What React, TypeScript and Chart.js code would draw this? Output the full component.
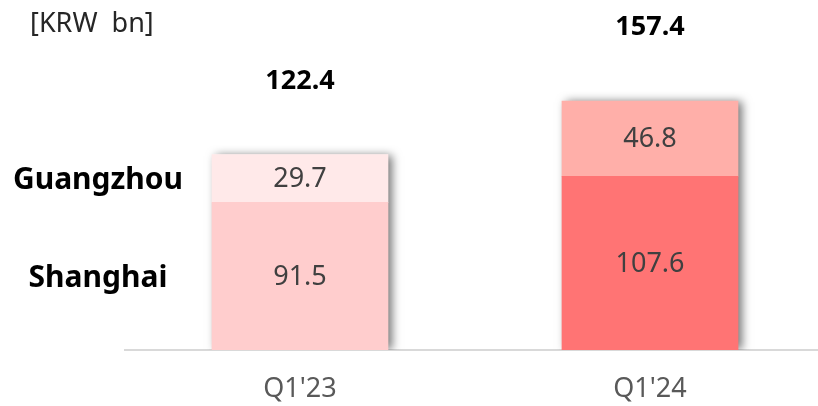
import React, { useEffect, useRef } from "react";
import { Chart, registerables } from "chart.js";

Chart.register(...registerables);

const categories = ["Q1'23", "Q1'24"];
const seriesNames = ["Shanghai", "Guangzhou"];
const shanghai = [91.5, 107.6];
const guangzhou = [29.7, 46.8];
const totals = [122.4, 157.4];
const unitLabel = "[KRW  bn]";

const shanghaiColors = ["#FFCDCD", "#FF7474"];
const guangzhouColors = ["#FFE9E9", "#FFAFA9"];

const FONT = "'Noto Sans', 'Open Sans', sans-serif";

const shadowPlugin = {
  id: "stackShadow",
  beforeDatasetsDraw(chart: any) {
    const ctx = chart.ctx;
    const area = chart.chartArea;
    const m0 = chart.getDatasetMeta(0);
    const m1 = chart.getDatasetMeta(1);
    ctx.save();
    ctx.beginPath();
    ctx.rect(0, 0, chart.width, area.bottom);
    ctx.clip();
    m0.data.forEach((el: any, i: number) => {
      const top = Math.min(el.y, m1.data[i].y);
      const bottom = el.base;
      const left = el.x - el.width / 2;
      ctx.shadowColor = "rgba(0,0,0,0.55)";
      ctx.shadowBlur = 9;
      ctx.shadowOffsetX = 4;
      ctx.shadowOffsetY = 0;
      ctx.fillStyle = "#ffffff";
      ctx.fillRect(left, top, el.width, bottom - top);
    });
    ctx.restore();
  },
};

const labelPlugin = {
  id: "labels",
  afterDatasetsDraw(chart: any) {
    const ctx = chart.ctx;
    const area = chart.chartArea;
    const m0 = chart.getDatasetMeta(0);
    const m1 = chart.getDatasetMeta(1);
    ctx.save();
    // segment values
    ctx.font = `27px ${FONT}`;
    ctx.fillStyle = "#404040";
    ctx.textAlign = "center";
    ctx.textBaseline = "middle";
    [m0, m1].forEach((meta: any, d: number) => {
      const vals = d === 0 ? shanghai : guangzhou;
      meta.data.forEach((el: any, i: number) => {
        ctx.fillText(vals[i].toFixed(1), el.x, (el.y + el.base) / 2 + 1);
      });
    });
    // totals
    ctx.font = `bold 27px ${FONT}`;
    ctx.fillStyle = "#000000";
    ctx.textBaseline = "alphabetic";
    m1.data.forEach((el: any, i: number) => {
      ctx.fillText(totals[i].toFixed(1), el.x, el.y - 66);
    });
    // series names aligned with first bar segments
    ctx.font = `bold 30px ${FONT}`;
    ctx.textBaseline = "middle";
    const first = [m0.data[0], m1.data[0]];
    first.forEach((el: any, d: number) => {
      ctx.fillText(seriesNames[d], area.left - 27, (el.y + el.base) / 2 + 2);
    });
    // unit
    ctx.font = `27px ${FONT}`;
    ctx.fillStyle = "#262626";
    ctx.textAlign = "left";
    ctx.textBaseline = "alphabetic";
    ctx.fillText(unitLabel, 30, 32);
    ctx.restore();
  },
};

export default function App() {
  const ref = useRef<HTMLCanvasElement | null>(null);
  useEffect(() => {
    if (!ref.current) return;
    const chart = new Chart(ref.current, {
      type: "bar",
      data: {
        labels: categories,
        datasets: [
          {
            label: seriesNames[0],
            data: shanghai,
            backgroundColor: shanghaiColors,
            barThickness: 176,
          },
          {
            label: seriesNames[1],
            data: guangzhou,
            backgroundColor: guangzhouColors,
            barThickness: 176,
          },
        ],
      },
      options: {
        animation: false,
        responsive: false,
        maintainAspectRatio: false,
        layout: { padding: { left: 125, right: 5, top: 0, bottom: 0 } },
        plugins: {
          legend: { display: false },
          tooltip: { enabled: false },
        },
        scales: {
          x: {
            stacked: true,
            grid: { display: false, drawTicks: false },
            border: { display: true, color: "#D9D9D9", width: 2 },
            ticks: {
              color: "#595959",
              font: { family: FONT, size: 27 },
              padding: 23,
            },
            afterFit: (s: any) => {
              s.height = 56;
            },
          },
          y: {
            stacked: true,
            display: false,
            min: 0,
            max: 217,
          },
        },
      },
      plugins: [shadowPlugin, labelPlugin],
    });
    return () => chart.destroy();
  }, []);
  return (
    <div
      style={{
        position: "fixed",
        left: 0,
        top: 0,
        width: 818,
        height: 406,
        overflow: "hidden",
        background: "#fff",
      }}
    >
      <canvas ref={ref} width={830} height={406} style={{ width: 830, height: 406 }} />
    </div>
  );
}
